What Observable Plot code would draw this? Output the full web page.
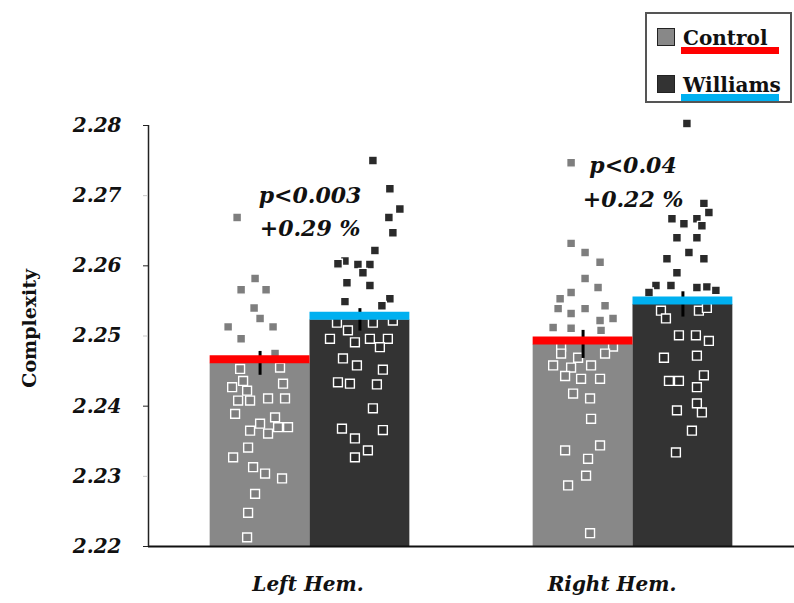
<!DOCTYPE html>
<html>
<head>
<meta charset="utf-8">
<script src="https://cdn.jsdelivr.net/npm/d3@7"></script>
<script src="https://cdn.jsdelivr.net/npm/@observablehq/plot@0.6"></script>
<style>
  body { margin: 0; background: #fff; }
  #wrap { position: relative; width: 794px; height: 603px; overflow: hidden; }
  .lg { position: absolute; box-sizing: border-box; }
  .lgtext { font-family: "DejaVu Serif", serif; font-weight: bold; font-size: 20px; line-height: 20px; color: #111; white-space: nowrap; }
</style>
</head>
<body>
<div id="wrap"></div>
<script>
// ---------- data ----------
const hemispheres = ["Left Hem.", "Right Hem."];
const groups = ["Control", "Williams"];

// bar means and standard errors, per hemisphere (Left, Right)
const controlMeans = [2.2461, 2.2488];
const williamsMeans = [2.2523, 2.2545];
const controlSE = [0.0017, 0.0020];
const williamsSE = [0.0016, 0.0018];

const yTicksMajor = [2.22, 2.24, 2.26, 2.28];
const yTicksMinor = [2.23, 2.25, 2.27];

// individual subjects: value and horizontal jitter (in bar widths)
const leftControlValues = [2.2669, 2.2582, 2.2566, 2.2566, 2.2540, 2.2525, 2.2513, 2.2513, 2.2496, 2.2475,
  2.2453, 2.2455, 2.2436, 2.2432, 2.2427, 2.2422, 2.2408, 2.2408, 2.2411, 2.2411, 2.2389, 2.2384, 2.2375,
  2.2370, 2.2370, 2.2365, 2.2361, 2.2341, 2.2327, 2.2313, 2.2304, 2.2297, 2.2275, 2.2248, 2.2213];
const leftControlJitter = [-0.23, -0.05, -0.19, 0.06, -0.06, 0.0, 0.13, -0.32, -0.19, 0.15,
  -0.20, 0.20, -0.17, 0.23, -0.28, -0.13, -0.22, -0.10, 0.08, 0.25, -0.25, 0.15, 0.0,
  0.18, 0.28, -0.10, 0.08, -0.12, -0.27, -0.07, 0.05, 0.22, -0.05, -0.12, -0.13];

const leftWilliamsValues = [2.2750, 2.2710, 2.2681, 2.2669, 2.2647, 2.2622, 2.2607, 2.2603, 2.2602, 2.2602,
  2.2590, 2.2576, 2.2572, 2.2553, 2.2549, 2.2543,
  2.2519, 2.2519, 2.2522, 2.2508, 2.2496, 2.2491, 2.2496, 2.2496, 2.2484, 2.2468, 2.2458, 2.2452,
  2.2434, 2.2432, 2.2431, 2.2397, 2.2368, 2.2366, 2.2354, 2.2337, 2.2327];
const leftWilliamsJitter = [0.13, 0.30, 0.40, 0.29, 0.33, 0.15, -0.15, -0.22, -0.02, 0.10,
  0.03, -0.13, 0.10, 0.30, -0.15, 0.22,
  -0.23, 0.13, 0.33, -0.12, -0.30, -0.05, 0.10, 0.28, 0.20, -0.17, -0.03, 0.23,
  -0.22, -0.10, 0.17, 0.13, -0.18, 0.23, -0.05, 0.08, -0.05];

const rightControlValues = [2.2747, 2.2632, 2.2619, 2.2605, 2.2582, 2.2569, 2.2562, 2.2553, 2.2539, 2.2532,
  2.2539, 2.2543, 2.2525, 2.2522, 2.2512, 2.2511, 2.2508,
  2.2485, 2.2485, 2.2475, 2.2469, 2.2475, 2.2458, 2.2455, 2.2458, 2.2443, 2.2439, 2.2439, 2.2418,
  2.2411, 2.2382, 2.2337, 2.2344, 2.2325, 2.2301, 2.2287, 2.2219];
const rightControlJitter = [-0.12, -0.12, 0.02, 0.17, 0.02, 0.15, -0.12, -0.23, -0.25, -0.12,
  0.02, 0.22, 0.30, 0.17, -0.30, -0.12, 0.18,
  -0.22, 0.30, -0.22, -0.05, 0.22, -0.30, -0.12, 0.08, -0.18, -0.02, 0.17, -0.10,
  0.07, 0.08, -0.18, 0.17, 0.05, 0.03, -0.15, 0.07];

const rightWilliamsValues = [2.2803, 2.2689, 2.2676, 2.2667, 2.2660, 2.2667, 2.2657, 2.2640, 2.2640, 2.2619,
  2.2610, 2.2610, 2.2590, 2.2572, 2.2572, 2.2569, 2.2570, 2.2565, 2.2562,
  2.2536, 2.2536, 2.2540, 2.2525, 2.2501, 2.2501, 2.2493, 2.2469, 2.2472, 2.2444, 2.2436, 2.2436,
  2.2427, 2.2394, 2.2404, 2.2391, 2.2365, 2.2334];
const rightWilliamsJitter = [0.04, 0.21, 0.26, -0.11, 0.01, 0.14, 0.19, -0.06, 0.14, 0.06,
  -0.16, 0.21, -0.06, -0.27, -0.12, 0.14, 0.24, 0.33, -0.34,
  -0.22, 0.16, 0.24, -0.17, -0.04, 0.13, 0.26, -0.19, 0.14, 0.21, -0.04, -0.14,
  0.14, -0.06, 0.14, 0.19, 0.09, -0.07];

// annotations (per hemisphere)
const pLabels = ["p<0.003", "p<0.04"];
const pctLabels = ["+0.29 %", "+0.22 %"];
const pLabelY = [2.2700, 2.2743];
const pctLabelY = [2.2653, 2.2694];

const yLabel = "Complexity";
const yLabelAt = 2.2511;

// ---------- styles ----------
const barColor = {Control: "#888888", Williams: "#333333"};
const pointColor = {Control: "#7e7e7e", Williams: "#2a2a2a"};
const meanColor = {Control: "#ff0000", Williams: "#00b0f0"};
const FONT = '"DejaVu Serif", serif';

// ---------- tables ----------
const groupPos = g => groups.indexOf(g) - 0.5;
const bars = [];
hemispheres.forEach((h, i) => {
  bars.push({hem: h, group: "Control", pos: groupPos("Control"), mean: controlMeans[i], se: controlSE[i]});
  bars.push({hem: h, group: "Williams", pos: groupPos("Williams"), mean: williamsMeans[i], se: williamsSE[i]});
});
const series = [
  [hemispheres[0], "Control", leftControlValues, leftControlJitter],
  [hemispheres[0], "Williams", leftWilliamsValues, leftWilliamsJitter],
  [hemispheres[1], "Control", rightControlValues, rightControlJitter],
  [hemispheres[1], "Williams", rightWilliamsValues, rightWilliamsJitter]
];
const points = series.flatMap(([hem, group, vals, jit]) =>
  vals.map((v, k) => ({hem, group, value: v, xpos: groupPos(group) + jit[k]})));
const annotations = hemispheres.map((h, i) => ({hem: h, p: pLabels[i], pct: pctLabels[i], py: pLabelY[i], pcty: pctLabelY[i]}));

const xDomain = [-1.6175, 1.6175];
const yDomain = [2.22, 2.28];

const txt = {fontFamily: FONT, fontWeight: "bold", fontStyle: "italic", fill: "#111"};

const marks = [];
for (const g of groups) {
  const b = bars.filter(d => d.group === g);
  marks.push(Plot.rectY(b, {fx: "hem", x1: d => d.pos - 0.5, x2: d => d.pos + 0.5, y1: yDomain[0], y2: "mean", fill: barColor[g]}));
}
for (const g of groups) {
  marks.push(Plot.dot(points.filter(d => d.group === g), {
    fx: "hem", x: "xpos", y: "value", symbol: "square", r: 5,
    fill: pointColor[g], stroke: "white", strokeWidth: 1.4
  }));
}
marks.push(Plot.ruleX(bars, {fx: "hem", x: "pos", y1: d => d.mean - d.se, y2: d => d.mean + d.se, stroke: "#000", strokeWidth: 3}));
for (const g of groups) {
  marks.push(Plot.ruleY(bars.filter(d => d.group === g), {fx: "hem", x1: d => d.pos - 0.5, x2: d => d.pos + 0.5, y: "mean", dy: -4, stroke: meanColor[g], strokeWidth: 8}));
}
// baseline and y axis line
marks.push(Plot.ruleY([yDomain[0]], {stroke: "#111", strokeWidth: 2}));
marks.push(Plot.ruleX([hemispheres[0]], {fx: d => d, x: xDomain[0], stroke: "#222", strokeWidth: 1.5}));
// y axis
marks.push(Plot.axisY({ticks: yTicksMajor, tickFormat: d => d.toFixed(2), tickSize: 5, tickPadding: 22, stroke: "#222", label: null, fontSize: 20, ...txt}));
marks.push(Plot.axisY({ticks: yTicksMinor, tickFormat: d => d.toFixed(2), tickSize: 5, tickPadding: 22, stroke: "#c8c8c8", label: null, fontSize: 20, ...txt}));
marks.push(Plot.text([hemispheres[0]], {fx: d => d, x: xDomain[0], y: () => yLabelAt, text: () => yLabel, rotate: -90, dx: -119,
  fontFamily: FONT, fontWeight: "bold", fontStyle: "normal", fontSize: 19, fill: "#111"}));
// hemisphere labels
marks.push(Plot.text([hemispheres[0]], {fx: d => d, text: d => d, frameAnchor: "bottom", dy: 44, dx: -2, fontSize: 20, ...txt}));
marks.push(Plot.text([hemispheres[1]], {fx: d => d, text: d => d, frameAnchor: "bottom", dy: 44, dx: -21, fontSize: 20, ...txt}));
// annotations
marks.push(Plot.text(annotations, {fx: "hem", x: 0, y: "py", text: "p", fontSize: 22, ...txt}));
marks.push(Plot.text(annotations, {fx: "hem", x: 0, y: "pcty", text: "pct", fontSize: 22, ...txt}));

const chart = Plot.plot({
  width: 794,
  height: 603,
  marginLeft: 147,
  marginRight: 0,
  marginTop: 125,
  marginBottom: 57,
  fx: {domain: hemispheres, padding: 0, axis: null, label: null},
  x: {domain: xDomain, axis: null},
  y: {domain: yDomain, axis: null},
  style: {background: "white", overflow: "visible", fontFamily: FONT, fontStyle: "italic", fontWeight: "bold"},
  marks
});
const wrap = document.getElementById("wrap");
wrap.appendChild(chart);

// ---------- legend ----------
function el(cls, css, text) {
  const d = document.createElement("div");
  d.className = cls;
  Object.assign(d.style, css);
  if (text) d.textContent = text;
  wrap.appendChild(d);
  return d;
}
el("lg", {left: "645px", top: "12px", width: "147px", height: "91px", border: "2px solid #555", background: "white"});
groups.forEach((g, i) => {
  const top = 28 + i * 47;
  el("lg", {left: "657px", top: top + "px", width: "18px", height: "18px", background: barColor[g], border: "1px solid #222"});
  el("lg lgtext", {left: "683px", top: (top - 0.5) + "px"}, g);
  el("lg", {left: "681px", top: (top + 19) + "px", width: "98px", height: "7px", background: meanColor[g]});
});
</script>
</body>
</html>
